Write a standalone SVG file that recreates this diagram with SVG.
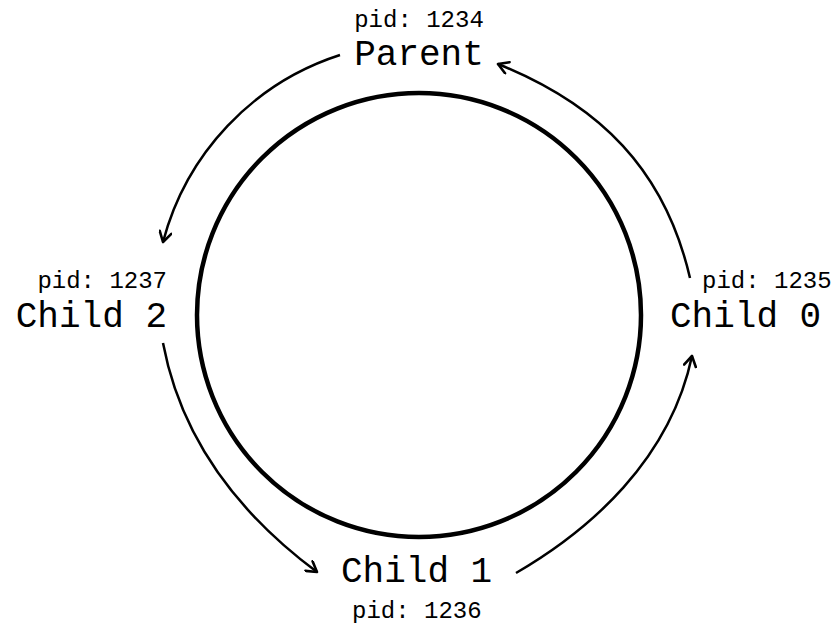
<svg xmlns="http://www.w3.org/2000/svg" width="839" height="626" viewBox="0 0 839 626">
<style>
.big{font-family:"Liberation Mono","Courier New",monospace;font-size:36px;fill:#000}
.small{font-family:"Liberation Mono","Courier New",monospace;font-size:24px;fill:#000}
.arr{fill:none;stroke:#000;stroke-width:2.5;marker-end:url(#ah)}
</style>
<defs>
<marker id="ah" viewBox="0 0 14 14" refX="12" refY="7" markerWidth="14" markerHeight="14" markerUnits="userSpaceOnUse" orient="auto">
<path d="M2,1 L12,7 L2,13" fill="none" stroke="#000" stroke-width="2.6" stroke-linecap="round" stroke-linejoin="round"/>
</marker>
</defs>
<rect width="839" height="626" fill="#fff"/>
<circle cx="419" cy="315" r="222" fill="none" stroke="#000" stroke-width="4.5"/>
<g id="connectors">
<path class="arr" d="M340,55 A268,268 0 0,0 163,242"/>
<path class="arr" d="M163,343 Q188,476 317,572"/>
<path class="arr" d="M516,573 C590,530 670,460 692,356"/>
<path class="arr" d="M690,278 C665,170 600,105 498,64"/>
</g>
<g id="parent">
<text class="small" x="419" y="27" text-anchor="middle">pid: 1234</text>
<text class="big" x="419" y="65" text-anchor="middle">Parent</text>
</g>
<g id="child0">
<text class="small" x="702" y="288">pid: 1235</text>
<text class="big" x="670" y="327">Child 0</text>
</g>
<g id="child1">
<text class="big" x="341" y="582">Child 1</text>
<text class="small" x="352" y="618">pid: 1236</text>
</g>
<g id="child2">
<text class="small" x="167" y="288" text-anchor="end">pid: 1237</text>
<text class="big" x="167" y="327" text-anchor="end">Child 2</text>
</g>
</svg>
